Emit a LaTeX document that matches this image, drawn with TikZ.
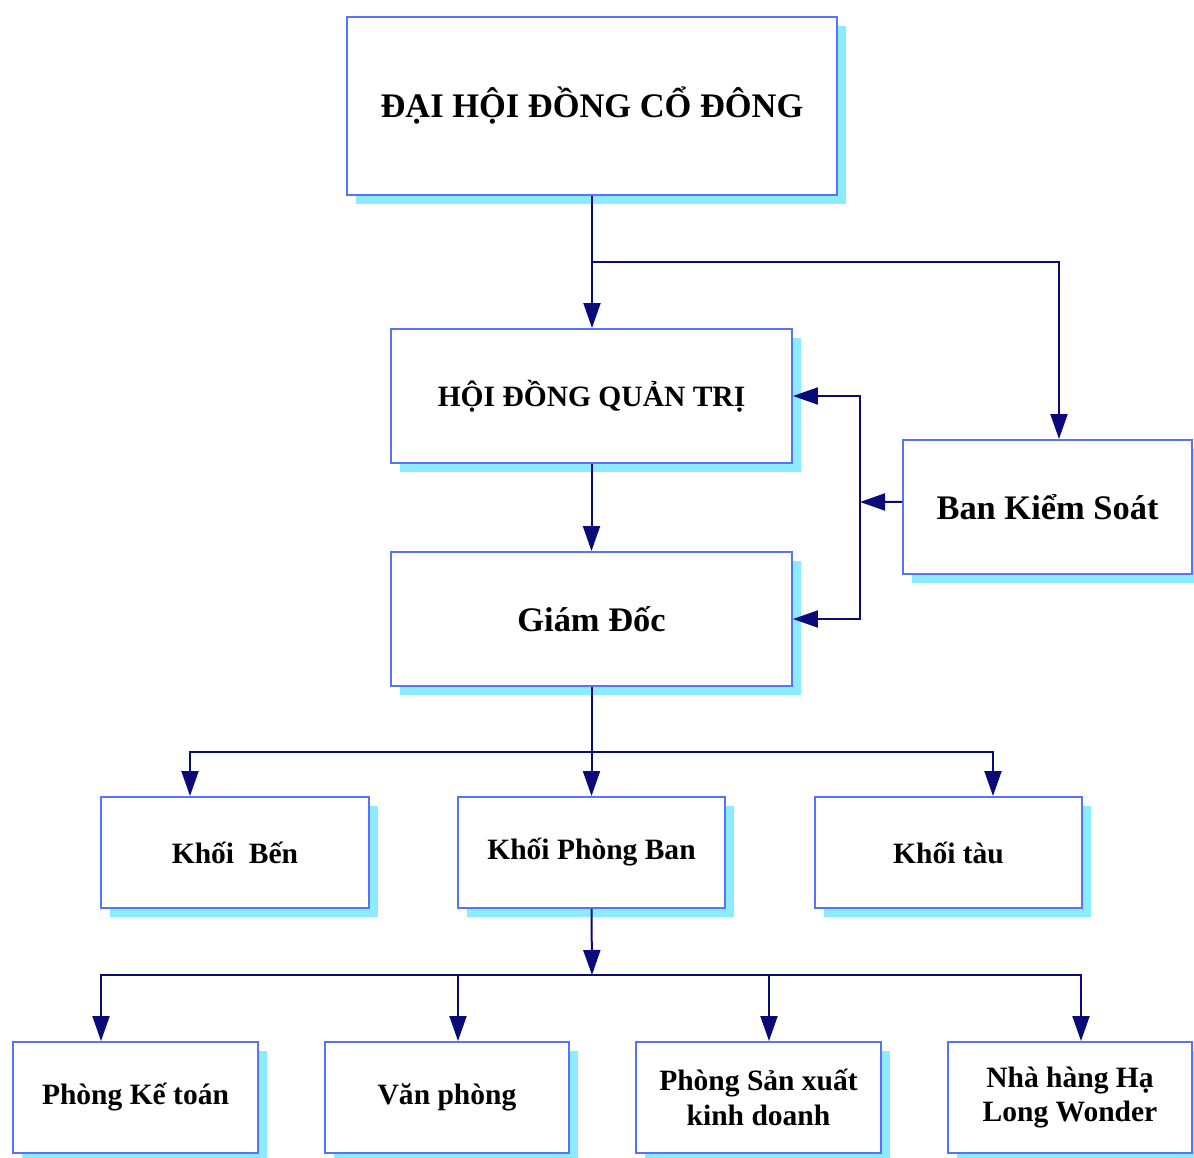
\documentclass[tikz,border=0pt]{standalone}
\usepackage{fontspec}
\setmainfont{Liberation Serif}
\usetikzlibrary{shadows,arrows.meta,calc}
\definecolor{navyc}{RGB}{10,10,120}
\definecolor{boxc}{RGB}{85,115,255}
\definecolor{shc}{RGB}{140,235,255}
\tikzset{
  box/.style={draw=boxc, line width=0.04cm, fill=white, inner sep=0pt, align=center,
    drop shadow={shadow xshift=0.18cm, shadow yshift=-0.18cm, fill=shc, opacity=1},
    font=\bfseries\fontsize{16.8}{19.5}\selectfont},
  bigtxt/.style={font=\bfseries\fontsize{19.6}{23}\selectfont},
  conn/.style={draw=navyc, line width=0.04cm},
  arr/.style={conn, -{Triangle[length=0.5cm, width=0.34cm]}},
}
\begin{document}
\begin{tikzpicture}[x=0.02cm, y=-0.02cm]
\useasboundingbox (0,0) rectangle (1194,1158);
\fill[white] (0,0) rectangle (1194,1158);
% boxes
\node[box, bigtxt, minimum width=9.8cm, minimum height=3.56cm] (A) at (592,106) {ĐẠI HỘI ĐỒNG CỔ ĐÔNG};
\node[box, minimum width=8.02cm, minimum height=2.68cm] (B) at (591.5,396) {HỘI ĐỒNG QUẢN TRỊ};
\node[box, bigtxt, minimum width=5.78cm, minimum height=2.68cm] (C) at (1047.5,507) {Ban Kiểm Soát};
\node[box, bigtxt, minimum width=8.02cm, minimum height=2.68cm] (D) at (591.5,619) {Giám Đốc};
\node[box, minimum width=5.36cm, minimum height=2.22cm] (E) at (235,852.5) {Khối\ \ Bến};
\node[box, minimum width=5.34cm, minimum height=2.22cm] (F) at (591.5,852.5) {Khối Phòng Ban};
\node[box, minimum width=5.34cm, minimum height=2.22cm] (G) at (948.5,852.5) {Khối tàu};
\node[box, minimum width=4.9cm, minimum height=2.22cm] (H) at (135.5,1097.5) {Phòng Kế toán};
\node[box, minimum width=4.88cm, minimum height=2.22cm] (I) at (447,1097.5) {Văn phòng};
\node[box, minimum width=4.9cm, minimum height=2.22cm] (J) at (758.5,1097.5) {Phòng Sản xuất\\kinh doanh};
\node[box, minimum width=4.88cm, minimum height=2.22cm] (K) at (1070,1097.5) {Nhà hàng Hạ\\Long Wonder};
% junctions
\coordinate (j1) at (592,262);
\coordinate (bus) at (860,502);
\coordinate (j2) at (592,752);
\coordinate (j3) at (592,975);
% connectors
\draw[arr] (A.south) -- (A.south |- B.north);
\draw[arr] (j1) -| ([xshift=0.23cm]C.north);
\draw[arr] (B.south) -- (D.north);
\draw[arr] ([yshift=0.1cm]C.west) -- (bus);
\draw[arr] (bus) |- (B.east);
\draw[arr] (bus) |- (D.east);
\draw[arr] (D.south) -- (F.north);
\draw[arr] (j2) -| ([xshift=-0.9cm]E.north);
\draw[arr] (j2) -| ([xshift=0.89cm]G.north);
\draw[arr] (F.south) -- (j3);
\draw[arr] (j3) -| ([xshift=-0.69cm]H.north);
\draw[arr] (j3) -| ([xshift=0.22cm]I.north);
\draw[arr] (j3) -| ([xshift=0.21cm]J.north);
\draw[arr] (j3) -| ([xshift=0.22cm]K.north);
\end{tikzpicture}
\end{document}
